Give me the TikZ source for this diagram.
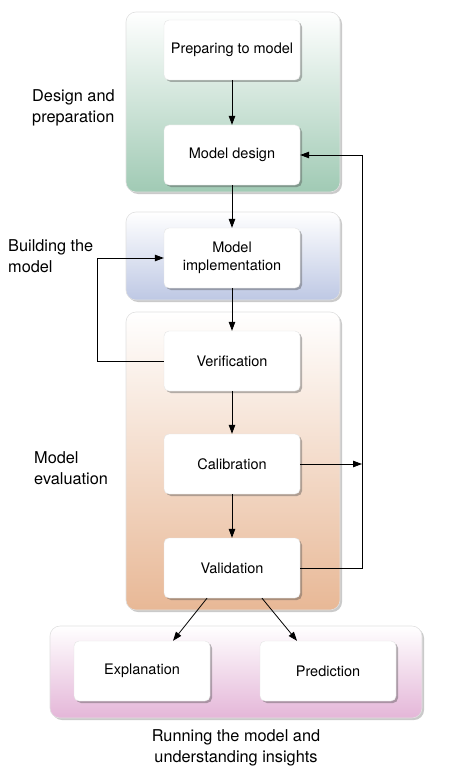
\documentclass[tikz,border=0pt]{standalone}
\usepackage{fontspec}
\setmainfont{TeX Gyre Heros}
\usetikzlibrary{arrows.meta,shadows}
\definecolor{pgreen}{RGB}{160,202,180}
\definecolor{pblue}{RGB}{190,200,228}
\definecolor{porange}{RGB}{232,184,150}
\definecolor{ppink}{RGB}{228,182,216}
\tikzset{
  panel/.style={rounded corners=10pt, draw=black!12, line width=0.6pt,
    drop shadow={shadow xshift=2pt, shadow yshift=-2pt, opacity=0.35, fill=black!60}},
  stepbox/.style={draw=black!10, fill=white, rounded corners=5pt,
    minimum width=136pt, minimum height=60pt, align=center, inner sep=2pt,
    font=\fontsize{14.5}{18.5}\selectfont,
    drop shadow={shadow xshift=2pt, shadow yshift=-2pt, opacity=0.4, fill=black!70}},
  lbl/.style={align=left, font=\fontsize{16.3}{20.5}\selectfont, inner sep=0pt},
  conn/.style={line width=0.8pt, -{Triangle[length=9pt,width=6.5pt]}},
  plain/.style={line width=0.8pt}
}
\begin{document}
\begin{tikzpicture}[x=1pt,y=-1pt]
\useasboundingbox (0,0) rectangle (450,773);
% panels
\path[panel, top color=white, bottom color=pgreen] (126,12) rectangle (340,192);
\path[panel, top color=white, bottom color=pblue] (126,212) rectangle (340,300);
\path[panel, top color=white, bottom color=porange] (126,312) rectangle (340,610);
\path[panel, top color=white, bottom color=ppink] (50,626) rectangle (422,718);
% steps
\node[stepbox] (prep) at (232,50) {Preparing to model};
\node[stepbox] (design) at (232,155) {Model design};
\node[stepbox] (impl) at (232,258) {Model\\implementation};
\node[stepbox] (verif) at (232,361) {Verification};
\node[stepbox] (calib) at (232,464) {Calibration};
\node[stepbox] (valid) at (232,568) {Validation};
\node[stepbox] (expl) at (142,671) {Explanation};
\node[stepbox] (pred) at (328,671) {Prediction};
% labels
\node[lbl, anchor=west] (ldesign) at (32,108) {Design and\\preparation};
\node[lbl, anchor=west] (lbuild) at (8,256) {Building the\\model};
\node[lbl, anchor=west] (leval) at (34,468) {Model\\evaluation};
\node[lbl, align=center] (lrun) at (236,748) {Running the model and\\understanding insights};
% helper coordinates
\coordinate (rv) at (362,464);
\coordinate (rt) at (362,155);
\coordinate (rb) at (362,568);
\coordinate (lv) at (97,361);
\coordinate (lt) at (97,258);
% connectors
\draw[conn] (prep) -- (design);
\draw[conn] (design) -- (impl);
\draw[conn] (impl) -- (verif);
\draw[conn] (verif) -- (calib);
\draw[conn] (calib) -- (valid);
\draw[conn] (verif.west) -- (lv) -- (lt) -- (impl.west);
\draw[conn] (calib.east) -- (rv);
\draw[conn] (valid.east) -- (rb) -- (rt) -- (design.east);
\draw[conn] (valid.south -| 207,0) -- (expl.north -| 173,0);
\draw[conn] (valid.south -| 262,0) -- (pred.north -| 297,0);
\end{tikzpicture}
\end{document}
